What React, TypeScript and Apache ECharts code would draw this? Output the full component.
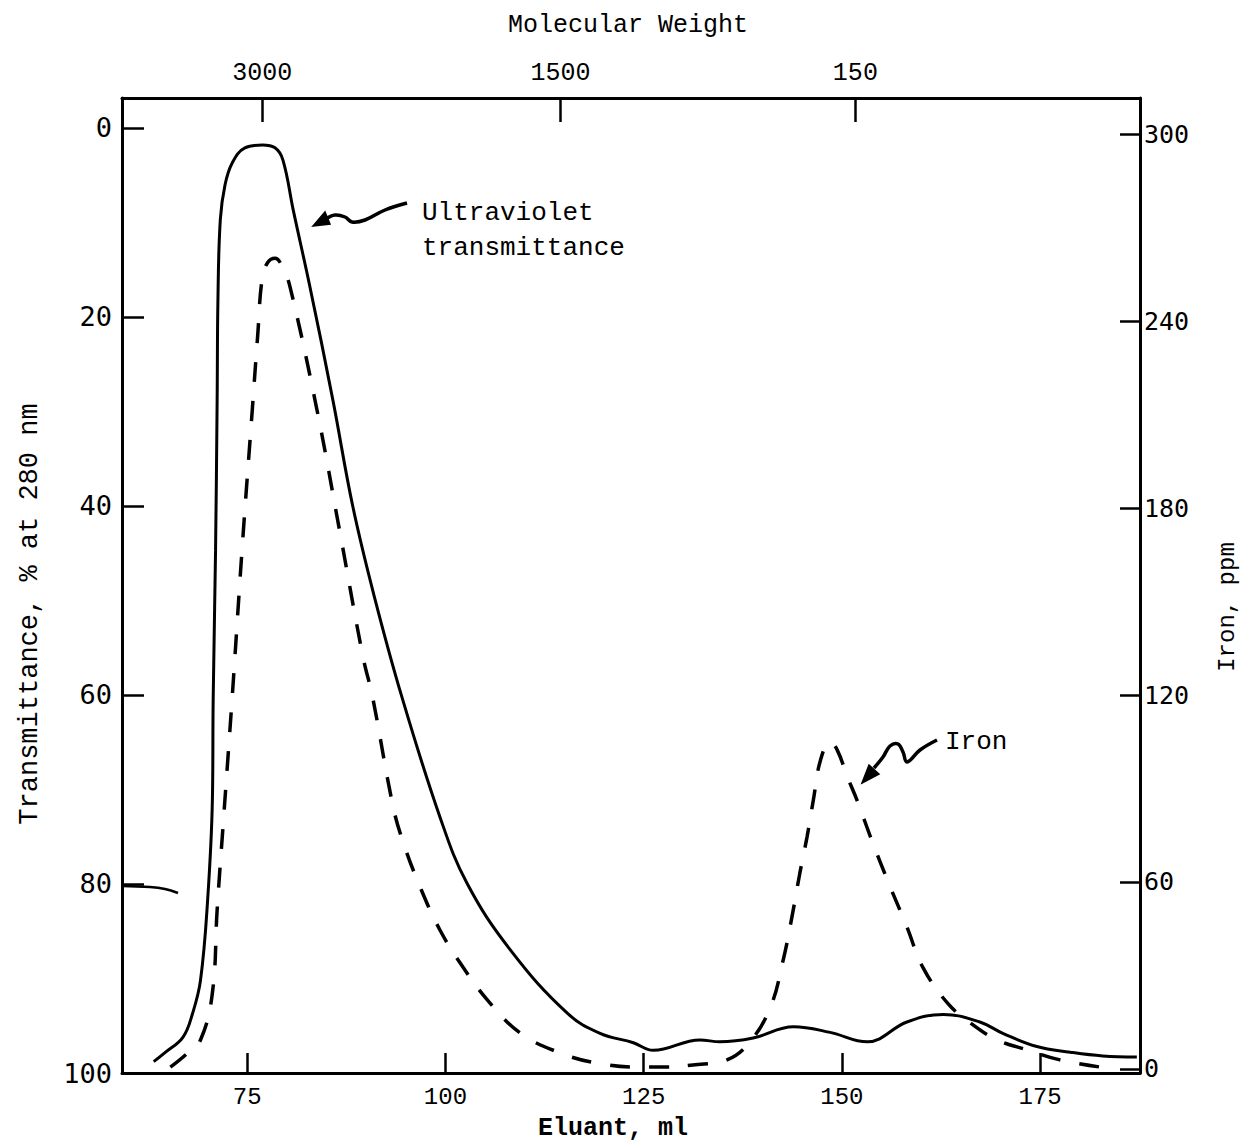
import React, { useEffect, useRef } from "react";
import * as echarts from "echarts";

// Ultraviolet transmittance (solid), % at 280 nm, left axis (inverted)
const uvEluant = [63.2, 64.7, 66.9, 68.1, 69.1, 70.0, 70.6, 70.7, 71.0, 71.2, 71.3, 71.6, 72.2, 73.1, 74.7, 76.9, 78.5, 79.5, 80.8, 82.9, 85.8, 88.3, 91.0, 94.5, 99.3, 102.7, 108.2, 115.4, 119.5, 123.7, 126.2, 132.1, 134.6, 138.8, 143.9, 148.5, 153.2, 158.2, 162.8, 167.4, 170.3, 174.6, 178.8, 182.9, 187.2];
const uvTransmittance = [98.8, 97.8, 96.2, 93.7, 90.2, 81.7, 71.1, 60.5, 44.7, 28.8, 18.2, 9.7, 6.0, 3.7, 2.1, 1.8, 2.1, 3.4, 8.7, 16.8, 28.8, 40.0, 49.5, 60.2, 72.9, 79.9, 87.0, 93.7, 95.8, 96.8, 97.6, 96.5, 96.7, 96.3, 95.1, 95.7, 96.7, 94.6, 93.8, 94.6, 95.8, 97.2, 97.8, 98.2, 98.3];

// Iron (dashed), ppm, right axis
const ironEluant = [65.3, 67.2, 69.1, 70.6, 71.2, 72.0, 73.1, 74.4, 75.6, 76.3, 76.9, 77.6, 78.5, 79.4, 80.4, 83.8, 86.7, 89.6, 90.8, 93.4, 94.7, 96.8, 99.3, 102.2, 105.3, 109.4, 114.5, 119.1, 124.6, 127.5, 131.2, 135.5, 138.4, 141.0, 142.6, 143.7, 144.7, 145.6, 146.4, 147.3, 148.5, 149.4, 150.7, 151.9, 153.9, 156.1, 158.2, 160.2, 163.3, 166.2, 169.6, 173.4, 177.5, 182.6];
const ironPpm = [0.6, 4.5, 9.3, 24.4, 51.0, 79.9, 119.3, 168.8, 210.4, 234.9, 254.1, 258.9, 260.2, 257.6, 250.9, 211.4, 172.0, 132.2, 119.4, 84.1, 72.5, 58.4, 44.6, 32.7, 22.1, 11.6, 5.1, 1.9, 0.6, 0.6, 1.3, 2.9, 8.7, 19.9, 35.0, 48.8, 62.9, 74.4, 86.3, 99.1, 104.9, 102.4, 93.7, 86.3, 72.5, 58.4, 45.6, 32.7, 21.2, 14.8, 9.3, 6.1, 2.9, 0.6];

// Tick labels
const eluantTicks = [75, 100, 125, 150, 175];
const transmittanceTicks = [0, 20, 40, 60, 80, 100];
const ironTicks = [0, 60, 120, 180, 240, 300];
const mwTickPositions = [76.9, 114.5, 151.7];
const mwTickLabels = ["3000", "1500", "150"];

const MONO = "'Liberation Mono', 'DejaVu Sans Mono', monospace";
const SANSMONO = "'DejaVu Sans Mono', 'Liberation Mono', monospace";

export default function App() {
  const ref = useRef<HTMLDivElement>(null);
  useEffect(() => {
    document.body.style.margin = "0";
    if (!ref.current) return;
    const chart = echarts.init(ref.current, null, { renderer: "svg" });
    const axisLine = { show: true, onZero: false, lineStyle: { color: "#000", width: 3 } };
    const tick = (vals: number[], len: number) => ({
      show: true,
      inside: true,
      length: len,
      customValues: vals,
      lineStyle: { color: "#000", width: 2.5 },
    });
    const option: any = {
      animation: false,
      backgroundColor: "#fff",
      grid: { left: 122, right: 103, top: 98, bottom: 71, show: false },
      xAxis: [
        {
          type: "value",
          position: "bottom",
          min: 59.2,
          max: 187.6,
          axisLine,
          axisTick: tick(eluantTicks, 20),
          axisLabel: {
            customValues: eluantTicks,
            margin: 12,
            color: "#000",
            fontFamily: MONO,
            fontSize: 24,
          },
          splitLine: { show: false },
        },
        {
          type: "value",
          position: "top",
          min: 59.2,
          max: 187.6,
          axisLine,
          axisTick: tick(mwTickPositions, 24),
          axisLabel: {
            customValues: mwTickPositions,
            margin: 12,
            color: "#000",
            fontFamily: MONO,
            fontSize: 25,
            formatter: (v: number) => {
              const i = mwTickPositions.findIndex((p) => Math.abs(p - v) < 0.01);
              return i >= 0 ? mwTickLabels[i] : "";
            },
          },
          splitLine: { show: false },
        },
      ],
      yAxis: [
        {
          type: "value",
          position: "left",
          inverse: true,
          min: -3.17,
          max: 100,
          axisLine,
          axisTick: tick(transmittanceTicks, 22),
          axisLabel: {
            customValues: transmittanceTicks,
            margin: 10,
            color: "#000",
            fontFamily: SANSMONO,
            fontSize: 27,
          },
          splitLine: { show: false },
        },
        {
          type: "value",
          position: "right",
          min: -1.3,
          max: 311.6,
          axisLine,
          axisTick: tick(ironTicks, 20),
          axisLabel: {
            customValues: ironTicks,
            margin: 4,
            color: "#000",
            fontFamily: SANSMONO,
            fontSize: 25,
          },
          splitLine: { show: false },
        },
      ],
      series: [
        {
          name: "Ultraviolet transmittance",
          type: "line",
          xAxisIndex: 0,
          yAxisIndex: 0,
          smooth: 0.4,
          showSymbol: false,
          symbol: "none",
          lineStyle: { color: "#000", width: 3 },
          data: uvEluant.map((x, i) => [x, uvTransmittance[i]]),
        },
        {
          name: "Iron",
          type: "line",
          xAxisIndex: 0,
          yAxisIndex: 1,
          smooth: 0.4,
          showSymbol: false,
          symbol: "none",
          lineStyle: { color: "#000", width: 3.5, type: [20, 19], cap: "butt" },
          data: ironEluant.map((x, i) => [x, ironPpm[i]]),
        },
      ],
      graphic: [
        {
          type: "text",
          x: 628,
          y: 25,
          style: { text: "Molecular Weight", fontFamily: MONO, fontSize: 25, fill: "#000", align: "center", verticalAlign: "middle" },
        },
        {
          type: "text",
          x: 613,
          y: 1128,
          style: { text: "Eluant, ml", fontFamily: MONO, fontSize: 25, fill: "#000", align: "center", verticalAlign: "middle", fontWeight: "bold" },
        },
        {
          type: "text",
          x: 30,
          y: 614,
          rotation: Math.PI / 2,
          style: { text: "Transmittance, % at 280 nm", fontFamily: MONO, fontSize: 27, fill: "#000", align: "center", verticalAlign: "middle" },
        },
        {
          type: "text",
          x: 1227,
          y: 607,
          rotation: Math.PI / 2,
          style: { text: "Iron, ppm", fontFamily: MONO, fontSize: 24, fill: "#000", align: "center", verticalAlign: "middle" },
        },
        {
          type: "text",
          x: 422,
          y: 213,
          style: { text: "Ultraviolet", fontFamily: MONO, fontSize: 26, fill: "#000", align: "left", verticalAlign: "middle" },
        },
        {
          type: "text",
          x: 422,
          y: 248,
          style: { text: "transmittance", fontFamily: MONO, fontSize: 26, fill: "#000", align: "left", verticalAlign: "middle" },
        },
        {
          type: "text",
          x: 945,
          y: 742,
          style: { text: "Iron", fontFamily: MONO, fontSize: 26, fill: "#000", align: "left", verticalAlign: "middle" },
        },
        {
          type: "polyline",
          shape: { points: [[407, 203], [385, 210], [365, 220], [352, 222], [345, 217], [335, 215], [326, 219]], smooth: 0.4 },
          style: { stroke: "#000", lineWidth: 3.5, fill: null },
        },
        {
          type: "polygon",
          shape: { points: [[313, 226], [330, 224], [325, 212]] },
          style: { fill: "#000", stroke: "#000", lineWidth: 1.5 },
        },
        {
          type: "polyline",
          shape: { points: [[937, 740], [920, 750], [907, 762], [903, 752], [898, 744], [890, 746], [883, 757], [874, 768]], smooth: 0.4 },
          style: { stroke: "#000", lineWidth: 3.5, fill: null },
        },
        {
          type: "polygon",
          shape: { points: [[862, 783], [879, 774], [869, 765]] },
          style: { fill: "#000", stroke: "#000", lineWidth: 1.5 },
        },
        {
          type: "polyline",
          shape: { points: [[122, 886], [150, 887], [165, 889], [178, 893]], smooth: 0.4 },
          style: { stroke: "#000", lineWidth: 2.5, fill: null },
        },
      ],
    };
    chart.setOption(option);
    return () => chart.dispose();
  }, []);
  return (
    <div
      ref={ref}
      style={{ position: "absolute", left: 0, top: 0, width: 1243, height: 1144, background: "#fff" }}
    />
  );
}
